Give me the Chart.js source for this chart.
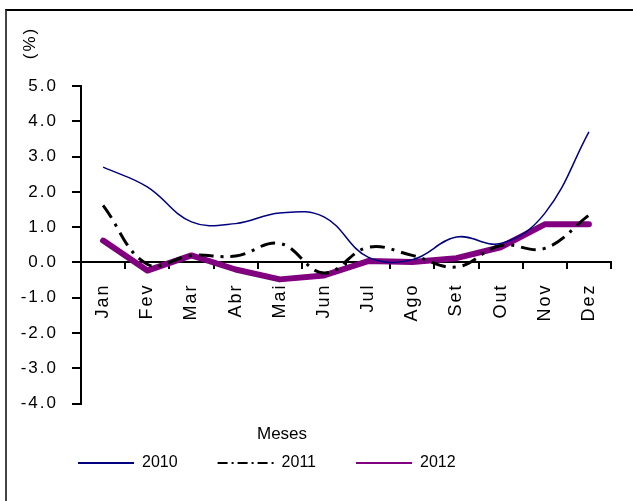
<!DOCTYPE html>
<html>
<head>
<meta charset="utf-8">
<script src="https://cdn.jsdelivr.net/npm/chart.js@4.4.1/dist/chart.umd.min.js"></script>
<style>
  html, body { margin: 0; padding: 0; background: #fff; overflow: hidden; }
  #quadro {
    position: absolute; left: 5px; top: 9px; width: 640px; height: 510px;
    border-top: 2px solid #000; border-left: 2px solid #444;
    box-sizing: border-box;
  }
  #wrap { position: absolute; left: 0; top: 0; width: 633px; height: 501px; }
  #unidade {
    position: absolute; left: 11px; top: 33px; width: 38px; height: 20px;
    line-height: 20px; text-align: center; letter-spacing: 2px;
    font-family: "Liberation Sans", Arial, sans-serif; font-size: 17px; font-weight: normal;
    color: #000; transform: rotate(-90deg); transform-origin: center;
  }
</style>
</head>
<body>
<div id="quadro"></div>
<div id="wrap"><canvas id="grafico" width="633" height="501"></canvas></div>
<span id="unidade">(%)</span>

<script>
// =====================================================
// DADOS
// =====================================================

const meses   = ['Jan', 'Fev', 'Mar', 'Abr', 'Mai', 'Jun', 'Jul', 'Ago', 'Set', 'Out', 'Nov', 'Dez']
const anos    = ['2010', '2011', '2012']
const v2010   = [2.70, 2.14, 1.15, 1.10, 1.40, 1.29, 0.15, 0.08, 0.72, 0.54, 1.39, 3.70]
const v2011   = [1.62, -0.05, 0.20, 0.18, 0.54, -0.30, 0.43, 0.20, -0.13, 0.48, 0.40, 1.34]
const v2012   = [0.62, -0.23, 0.20, -0.20, -0.48, -0.37, 0.04, 0.01, 0.12, 0.43, 1.08, 1.08]
const yTicks  = [-4, -3, -2, -1, 0, 1, 2, 3, 4, 5]

// =====================================================
// AJUSTES DE LAYOUT
// =====================================================

const FONTE = '"Liberation Sans", Arial, sans-serif'

const ajusteCaixas = {
  id: 'ajusteCaixas',
  afterLayout(chart) {
    // legenda: linha começa em x=78, centro vertical em y≈463
    const lg = chart.legend
    lg.top = 415; lg.bottom = 501
    lg.height = lg.bottom - lg.top
    lg.left = 38; lg.right = 620
    lg.width = lg.right - lg.left

    // "Meses" centrado em x≈282
    const tt = chart.titleBlock
    tt.left = 0; tt.right = 564
  },
  // rótulos dos eixos (ticks.z = 1) saem mais largos, como no original
  afterDatasetsDraw(chart) { chart.ctx.letterSpacing = '2px' },
  afterDraw(chart)         { chart.ctx.letterSpacing = '0px' }
}

new Chart(document.getElementById('grafico').getContext('2d'), {
  type: 'line',
  data: {
    labels: meses,
    datasets: [
      {
        label: anos[0],
        data: v2010,
        borderColor: '#000080',
        borderWidth: 1.5,
        tension: 0.4,
        pointRadius: 0
      },
      {
        label: anos[1],
        data: v2011,
        borderColor: '#000',
        borderWidth: 3,
        borderDash: [15, 7, 3, 7],
        tension: 0.4,
        pointRadius: 0
      },
      {
        label: anos[2],
        data: v2012,
        borderColor: '#800080',
        borderWidth: 6,
        borderCapStyle: 'round',
        borderJoinStyle: 'round',
        tension: 0,
        pointRadius: 0
      }
    ]
  },
  options: {
    responsive: false,
    animation: false,
    layout: { padding: { top: 86, right: 22, bottom: 18, left: 0 } },
    plugins: {
      tooltip: { enabled: false },
      title: {
        display: true,
        text: 'Meses',
        position: 'bottom',
        weight: 500,
        color: '#000',
        font: { family: FONTE, size: 17, weight: 'normal' },
        padding: { top: 21, bottom: 2 }
      },
      legend: {
        position: 'bottom',
        align: 'start',
        maxHeight: 36,
        labels: {
          font: { family: FONTE, size: 16 },
          color: '#000',
          padding: 40,
          usePointStyle: true,
          pointStyleWidth: 56,
          generateLabels: chart => chart.data.datasets.map((ds, i) => ({
            text: ds.label,
            datasetIndex: i,
            pointStyle: 'line',
            strokeStyle: ds.borderColor,
            fillStyle: ds.borderColor,
            lineWidth: 2,
            lineDash: i === 1 ? [10, 4, 2, 4] : [],
            fontColor: '#000'
          }))
        }
      }
    },
    scales: {
      x: {
        position: { y: 0 },
        offset: true,
        grid: {
          display: true,
          drawOnChartArea: false,
          offset: true,
          tickLength: 6,
          lineWidth: 2,
          color: '#000'
        },
        border: { display: true, color: '#000', width: 2 },
        ticks: {
          z: 1,
          autoSkip: false,
          minRotation: 90,
          maxRotation: 90,
          padding: 15,
          color: '#000',
          font: { family: FONTE, size: 18 }
        }
      },
      y: {
        min: -4,
        max: 5,
        afterFit: s => { s.width = 81 },
        afterBuildTicks: s => { s.ticks = yTicks.map(v => ({ value: v })) },
        grid: {
          display: true,
          drawOnChartArea: false,
          tickLength: 9,
          lineWidth: 2,
          color: '#000'
        },
        border: { display: true, color: '#000', width: 2 },
        ticks: {
          z: 1,
          padding: 14,
          color: '#000',
          font: { family: FONTE, size: 17 },
          callback: v => Number(v).toFixed(1)
        }
      }
    }
  },
  plugins: [ajusteCaixas]
})
</script>
</body>
</html>
